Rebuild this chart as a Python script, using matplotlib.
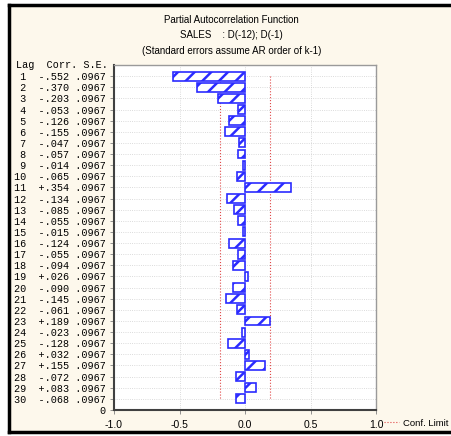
import matplotlib.pyplot as plt
from matplotlib.patches import Rectangle
from matplotlib.lines import Line2D

lags = list(range(1, 31))
corr = [-0.552, -0.370, -0.203, -0.053, -0.126, -0.155, -0.047, -0.057, -0.014, -0.065,
        0.354, -0.134, -0.085, -0.055, -0.015, -0.124, -0.055, -0.094, 0.026, -0.090,
        -0.145, -0.061, 0.189, -0.023, -0.128, 0.032, 0.155, -0.072, 0.083, -0.068]
se = [0.0967] * 30
xticks = [-1.0, -0.5, 0.0, 0.5, 1.0]

plt.rcParams['hatch.linewidth'] = 1.8
plt.rcParams['font.family'] = 'Liberation Sans'

fig = plt.figure(figsize=(4.51, 4.36), dpi=100, facecolor='white')

# cream panel, black frame on top / left / bottom
x0, y0, y1 = 9 / 451, 4 / 436, 1 - 5 / 436
fig.patches.append(Rectangle((x0, y0), 1 - x0, y1 - y0, transform=fig.transFigure,
                             facecolor='#fdf8ec', edgecolor='none', zorder=-10))
for xs, ys in [([x0, 1], [y1, y1]), ([x0, x0], [y0, y1]), ([x0, 1], [y0, y0])]:
    fig.lines.append(Line2D(xs, ys, transform=fig.transFigure, color='black',
                            linewidth=2.5, solid_capstyle='projecting'))

ax = fig.add_axes([0.2528, 0.0596, 0.581, 0.7913])
ax.set_facecolor('white')

n = len(lags)
pos = [n + 1 - l for l in lags]

ax.barh(pos, corr, height=0.8, color='white', edgecolor='#2b2bff',
        hatch='//', linewidth=1.2, zorder=3)

# confidence limits (2 * S.E.)
lim = [2 * s for s in se]
ax.plot(lim, pos, ls=':', color='#e04848', lw=0.8, zorder=2)
ax.plot([-v for v in lim], pos, ls=':', color='#e04848', lw=0.8, zorder=2)

ax.set_xlim(-1, 1)
ax.set_ylim(0, n + 1)
ax.set_xticks(xticks)
ax.set_xticklabels([f"{v:.1f}" for v in xticks], fontsize=7.5)

def fmt(c):
    return f"{c:+.3f}".replace("0.", ".")

labels = [f"{l:>2}  {fmt(c)} {s:.4f}".replace("0.", ".") for l, c, s in zip(lags, corr, se)]
ax.set_yticks(pos + [0])
ax.set_yticklabels(labels + ["0"], fontsize=7.3, family='Liberation Mono')
ax.tick_params(axis='y', length=3, width=0.6, color='#808080', pad=3, direction='out')
ax.tick_params(axis='x', length=3, width=0.6, color='#808080', pad=4)

ax.grid(True, ls=':', color='#cfcfcf', lw=0.6, zorder=0)
ax.set_axisbelow(True)

for side in ['left', 'bottom']:
    ax.spines[side].set_color('#404040')
    ax.spines[side].set_linewidth(1.5)
for side in ['top', 'right']:
    ax.spines[side].set_color('#9a9a9a')
    ax.spines[side].set_linewidth(1.0)

fig.text(16 / 451, 1 - 65 / 436, "Lag  Corr. S.E.", fontsize=7.3,
         family='Liberation Mono', ha='left', va='center')

fig.text(0.514, 1 - 20 / 436, "Partial Autocorrelation Function", fontsize=7,
         ha='center', va='center')
fig.text(0.514, 1 - 35 / 436, "SALES    : D(-12); D(-1)", fontsize=7,
         ha='center', va='center')
fig.text(0.514, 1 - 51 / 436, "(Standard errors assume AR order of k-1)", fontsize=7,
         ha='center', va='center')

conf = Line2D([], [], ls=':', color='#e04848', lw=0.8)
ax.legend([conf], ["Conf. Limit"], loc='center left', bbox_to_anchor=(1.015, -0.038),
          frameon=False, fontsize=6.8, handlelength=1.6, handletextpad=0.4,
          borderaxespad=0)

fig.savefig("out.png", dpi=100, facecolor=fig.get_facecolor())
